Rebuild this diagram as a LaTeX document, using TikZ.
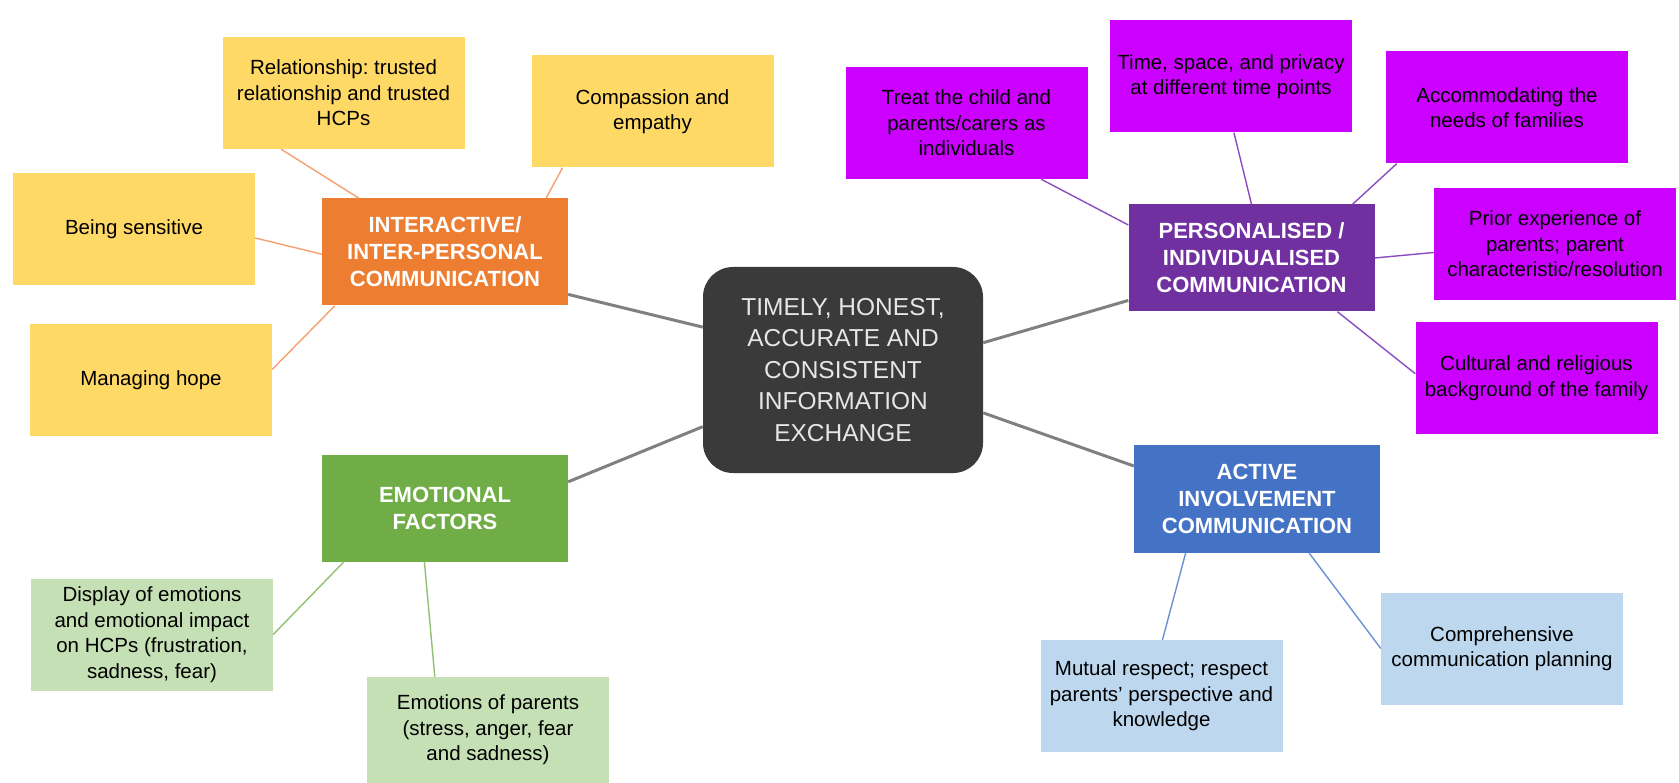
\documentclass[tikz,border=0pt]{standalone}
\usepackage{fontspec}
\setmainfont{Liberation Sans}
\usetikzlibrary{positioning}
\frenchspacing

\definecolor{infogray}{HTML}{3A3A3A}
\definecolor{infotext}{HTML}{E6E6E6}
\definecolor{interorange}{HTML}{ED7D31}
\definecolor{interleaf}{HTML}{FFD966}
\definecolor{interline}{HTML}{F4A070}
\definecolor{emogreen}{HTML}{70AD47}
\definecolor{emoleaf}{HTML}{C5E0B4}
\definecolor{emoline}{HTML}{90C070}
\definecolor{persopurple}{HTML}{7030A0}
\definecolor{persoleaf}{HTML}{CC00FF}
\definecolor{persoline}{HTML}{8A4CC0}
\definecolor{activeblue}{HTML}{4472C4}
\definecolor{activeleaf}{HTML}{BDD7EE}
\definecolor{activeline}{HTML}{6A90D4}
\definecolor{spoke}{HTML}{808080}

\begin{document}
\begin{tikzpicture}[x=1pt,y=-1pt,
                    box/.style={rectangle,inner sep=0pt,align=center,
                                minimum width=242pt,minimum height=112pt},
                    leaf/.style={box,text=black,font=\fontsize{20.5}{25.5}\selectfont},
                    hub/.style={box,minimum width=246pt,minimum height=107pt,
                                text=white,font=\fontsize{22}{27}\selectfont\bfseries}]
      \tikzstyle{twig}=[line width=1.4pt]

      \useasboundingbox (0,0) rectangle (1679,783);

      % centre
      \node[rounded corners=30pt,fill=infogray,text=infotext,align=center,
            minimum width=280pt,minimum height=206pt,inner sep=0pt,
            font=\fontsize{24.5}{31.5}\selectfont]
            (info) at (843,370) {TIMELY, HONEST,\\ACCURATE AND\\CONSISTENT\\INFORMATION\\EXCHANGE};

      % hubs
      \node[hub,fill=interorange]  (inter)  at (445,252)    {INTERACTIVE/\\INTER-PERSONAL\\COMMUNICATION};
      \node[hub,fill=emogreen]     (emo)    at (445,508)    {EMOTIONAL\\FACTORS};
      \node[hub,fill=persopurple]  (perso)  at (1251.5,258) {PERSONALISED /\\INDIVIDUALISED\\COMMUNICATION};
      \node[hub,fill=activeblue]   (active) at (1257,499)   {ACTIVE\\INVOLVEMENT\\COMMUNICATION};

      % leaves
      \node[leaf,fill=interleaf]   (rel)     at (343.5,93)   {Relationship: trusted\\relationship and trusted\\HCPs};
      \node[leaf,fill=interleaf]   (compa)   at (652.5,111.5) {Compassion and\\empathy};
      \node[leaf,fill=interleaf]   (sens)    at (134,229.5)  {Being sensitive};
      \node[leaf,fill=interleaf]   (hope)    at (151,380)    {Managing hope};
      \node[leaf,fill=emoleaf]     (disp)    at (152,634.5)  {Display of emotions\\and emotional impact\\on HCPs (frustration,\\sadness, fear)};
      \node[leaf,fill=emoleaf,minimum height=106pt] (parents) at (488,730) {Emotions of parents\\(stress, anger, fear\\and sadness)};
      \node[leaf,fill=persoleaf]   (treat)   at (966.5,123)  {Treat the child and\\parents/carers as\\individuals};
      \node[leaf,fill=persoleaf]   (time)    at (1231,76.5)  {Time, space, and privacy\\at different time points};
      \node[leaf,fill=persoleaf]   (accom)   at (1507,107.5) {Accommodating the\\needs of families};
      \node[leaf,fill=persoleaf]   (prior)   at (1555,244)   {Prior experience of\\parents; parent\\characteristic/resolution};
      \node[leaf,fill=persoleaf]   (cult)    at (1536.5,378) {Cultural and religious\\background of the family};
      \node[leaf,fill=activeleaf]  (mutual)  at (1161.5,696) {Mutual respect; respect\\parents’ perspective and\\knowledge};
      \node[leaf,fill=activeleaf]  (plan)    at (1502,648.5) {Comprehensive\\communication planning};

      % spokes
      \path[draw=spoke,line width=3pt]
        (info.163.7)  edge (inter.341.6)
        (info.202.5)  edge (emo.12.8)
        (info.11.3)   edge (perso.199.2)
        (info.343.3)  edge (active.165.9);

      \path[twig,draw=interline]
        (rel.222.4)   edge (inter.148)
        (compa.212.4) edge (inter.28.2)
        (sens.356)    edge (inter.181)
        (hope.5.7)    edge (inter.206.3);

      \path[twig,draw=emoline]
        (disp.0)      edge (emo.208.9)
        (parents.135) edge (emo.249.2);

      \path[twig,draw=persoline]
        (treat.323.1) edge (perso.165.9)
        (time.273)    edge (perso.90)
        (accom.207.6) edge (perso.28.7)
        (prior.184.3) edge (perso.0.5)
        (cult.178.1)  edge (perso.328.9);

      \path[twig,draw=activeline]
        (mutual.89)   edge (active.217.6)
        (plan.180)    edge (active.314.8);
\end{tikzpicture}
\end{document}
